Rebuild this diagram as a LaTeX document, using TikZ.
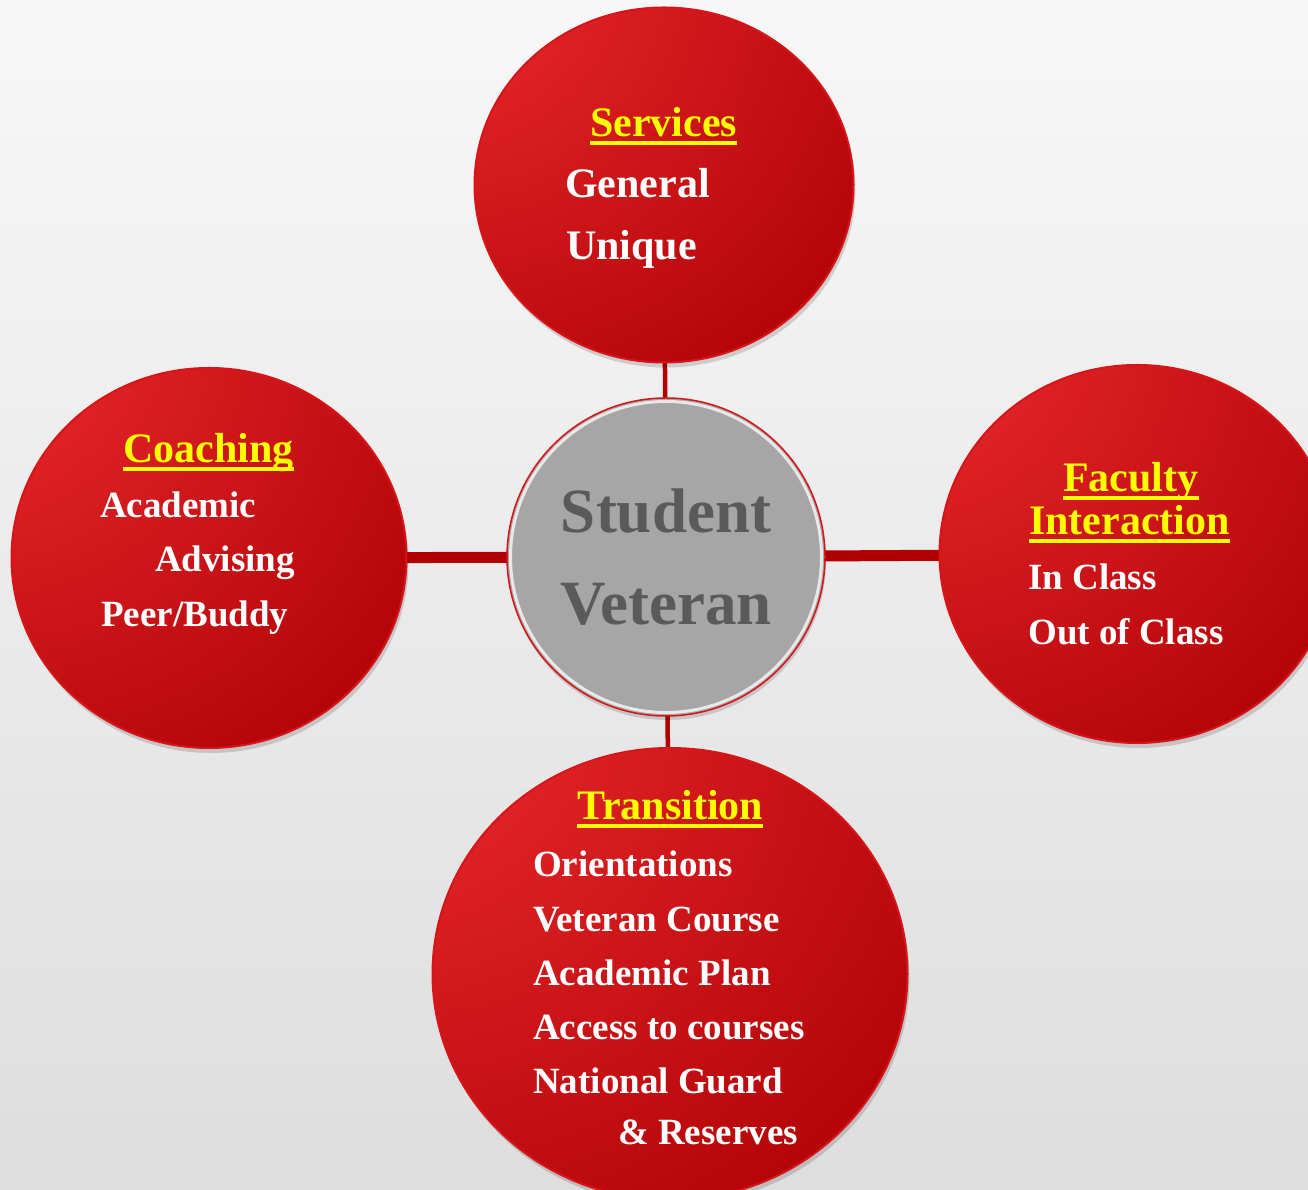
\documentclass[tikz,border=0pt]{standalone}
\usepackage{fontspec}
\setmainfont{Liberation Serif}
\usepackage{tikz}
\usetikzlibrary{shapes.geometric}
\usetikzlibrary{shadows}

\definecolor{redlight}{HTML}{E5272A}
\definecolor{reddark}{HTML}{AE0004}
\definecolor{redrim}{HTML}{D81418}
\definecolor{linkred}{HTML}{B00002}
\definecolor{hdyellow}{HTML}{FFFF00}
\definecolor{hubgray}{HTML}{A6A6A6}
\definecolor{hubtext}{HTML}{5A5A5A}

\pgfdeclareradialshading{redball}{\pgfpoint{-38bp}{38bp}}{%
  color(0bp)=(redlight); color(14bp)=(redlight); color(60bp)=(reddark!92!redlight); color(95bp)=(reddark); color(150bp)=(reddark)}

\pgfdeclarelayer{backdrop}
\pgfdeclarelayer{links}
\pgfsetlayers{backdrop,links,main}

\begin{document}
\begin{tikzpicture}[x=1pt,y=1pt,
    ball/.style={ellipse, inner sep=0pt, shading=redball, draw=redrim, line width=2pt,
      drop shadow={shadow xshift=2pt, shadow yshift=-5pt, opacity=0.15, fill=black}},
    hub/.style={circle, inner sep=0pt, minimum size=318pt, fill=hubgray, draw=redrim, line width=1.5pt,
      drop shadow={shadow xshift=1pt, shadow yshift=-4pt, opacity=0.15, fill=black}},
    head/.style={inner sep=0pt, anchor=base west, text=hdyellow,
      font=\fontsize{42}{48}\selectfont\bfseries},
    item/.style={inner sep=0pt, anchor=base west, text=white,
      font=\fontsize{37}{44}\selectfont\bfseries},
    bigitem/.style={item, font=\fontsize{42}{48}\selectfont\bfseries},
    hubword/.style={inner sep=0pt, anchor=base, text=hubtext,
      font=\fontsize{63}{70}\selectfont\bfseries},
    uline/.style={hdyellow, line width=4pt},
    linkv/.style={linkred, line width=4.5pt},
    linkh/.style={linkred, line width=11pt}]
  \useasboundingbox (0,0) rectangle (1308,1190);

  % Paper
  \begin{pgfonlayer}{backdrop}
    \shade[top color=white!97!black, bottom color=white!87!black] (0,0) rectangle (1308,1190);
  \end{pgfonlayer}

  % Circles
  \node[hub] (cen) at (666,633) {};
  \draw[white, opacity=0.75, line width=3pt] (cen.center) circle (155.5);

  \node[ball, minimum width=379pt, minimum height=355pt] (serv) at (664,1005) {};
  \node[ball, minimum width=395pt, minimum height=380pt] (coach) at (209,632) {};
  \node[ball, minimum width=395pt, minimum height=378pt] (fac) at (1137,636) {};
  \node[ball, minimum width=475pt, minimum height=452pt] (trans) at (670,216) {};

  % Links
  \begin{pgfonlayer}{links}
    \draw[linkv] (serv.center) -- (cen.center);
    \draw[linkv] (cen.center) -- (trans.center);
    \draw[linkh] (coach.center) -- (cen.center);
    \draw[linkh] (cen.center) -- (fac.center);
  \end{pgfonlayer}

  % Centre words
  \node[hubword] (stu) at (666,657) {Student};
  \node[hubword] (vet) at (666,565) {Veteran};

  % Services
  \node[head] (hserv) at (590,1053) {Services};
  \draw[uline] ([yshift=-6pt]hserv.base west) -- ([yshift=-6pt]hserv.base east);
  \node[bigitem] (gen) at (565,992) {General};
  \node[bigitem] (uniq) at (566,930) {Unique};

  % Coaching
  \node[head] (hcoach) at (123,727) {Coaching};
  \draw[uline] ([yshift=-6pt]hcoach.base west) -- ([yshift=-6pt]hcoach.base east);
  \node[item] (acad) at (100,672) {Academic};
  \node[item] (adv) at (155,618) {Advising};
  \node[item] (peer) at (101,563) {Peer/Buddy};

  % Faculty interaction
  \node[head] (hfac) at (1063,698) {Faculty};
  \draw[uline] ([yshift=-6pt]hfac.base west) -- ([yshift=-6pt]hfac.base east);
  \node[head] (hint) at (1029,655) {Interaction};
  \draw[uline] ([yshift=-6pt]hint.base west) -- ([yshift=-6pt]hint.base east);
  \node[item] (incl) at (1028,600) {In Class};
  \node[item] (outcl) at (1028,545) {Out of Class};

  % Transition
  \node[head] (htrans) at (577,370) {Transition};
  \draw[uline] ([yshift=-6pt]htrans.base west) -- ([yshift=-6pt]htrans.base east);
  \foreach \txt [count=\i, evaluate=\i as \yy using 313-54.2*(\i-1)] in
      {Orientations, Veteran Course, Academic Plan, Access to courses, National Guard} {
    \node[item] (tr\i) at (533,\yy) {\txt};
  }
  \node[item] (tr6) at (618,45) {\& Reserves};
\end{tikzpicture}
\end{document}
